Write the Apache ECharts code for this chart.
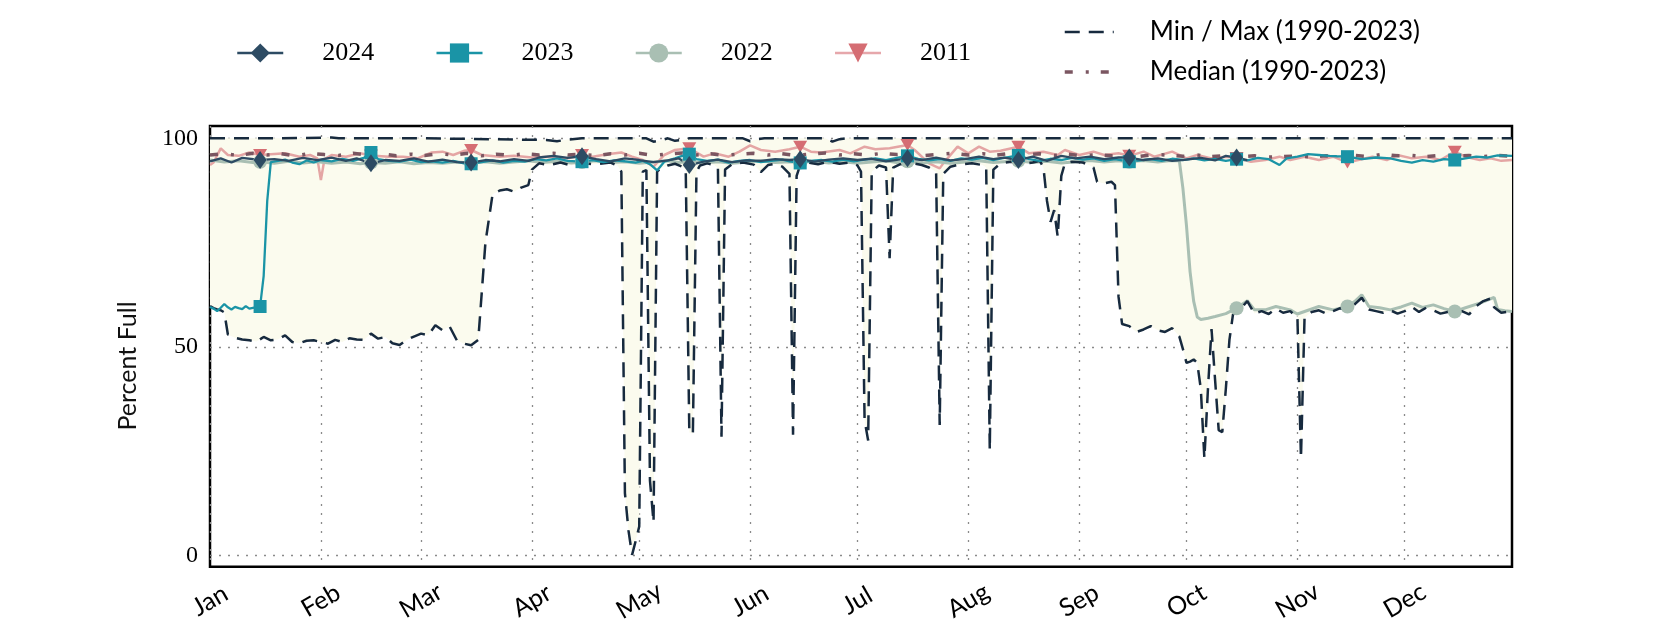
<!DOCTYPE html>
<html>
<head>
<meta charset="utf-8">
<script src="https://cdn.jsdelivr.net/npm/echarts@6/dist/echarts.min.js"></script>
<style>html,body{margin:0;padding:0;background:#fff}#c{width:1680px;height:630px}</style>
</head>
<body>
<div id="c"></div>
<script>
const months = ['Jan','Feb','Mar','Apr','May','Jun','Jul','Aug','Sep','Oct','Nov','Dec'];
const monthStart = [0,31,59,90,120,151,181,212,243,273,304,334];
const markerDays = [14,45,73,104,134,165,195,226,257,287,318,348];
const yTicks = [0,50,100];

const maxPct = [[0,100],[20,100],[34,100.2],[36,100],[60,100],[94,99.6],[97,99.3],[100,99.7],[104,100],[122,100],[124,99.2],[126,99.5],[128,100],[130,99.4],[132,99.6],[134,100],[149,100],[151,99.3],[153,99.8],[155,100],[172,100],[174,99.2],[176,99.8],[178,100],[364,100]];

const minPct = [[0,59.8],[1,59.3],[2,59.0],[3,58.8],[4,58.3],[5,53.0],[6,52.6],[7,52.2],[9,51.8],[11,51.6],[13,51.3],[15,52.4],[17,51.6],[19,51.8],[21,52.8],[23,51.2],[25,50.9],[27,51.5],[29,51.6],[31,51.2],[33,50.8],[35,51.7],[37,51.2],[39,52.1],[41,51.8],[43,51.7],[45,53.2],[47,52.0],[49,52.4],[51,50.9],[53,50.5],[55,51.7],[57,52.5],[59,53.2],[61,52.8],[63,55.2],[65,54.0],[67,54.9],[69,51.6],[71,50.8],[73,50.4],[75,51.7],[77,75.0],[79,86.6],[81,87.5],[83,87.8],[85,87.2],[87,88.2],[89,88.8],[90,92.5],[92,94.0],[95,93.6],[98,94.2],[101,93.5],[104,94.1],[107,93.8],[109,93.9],[112,94.2],[114,93.4],[115,92.0],[116,15.0],[117,6.0],[118,0.2],[119,3.5],[120,7.0],[121,92.0],[122,92.4],[123,18.0],[124,8.0],[125,92.0],[126,92.8],[128,93.5],[130,93.9],[132,93.2],[133,92.5],[134,29.5],[135,29.3],[136,92.0],[137,93.5],[139,94.0],[141,93.6],[142,92.8],[143,28.5],[144,92.5],[146,93.8],[149,94.2],[152,93.7],[154,91.9],[156,93.6],[158,93.9],[160,93.2],[162,91.5],[163,29.0],[164,91.0],[165,93.6],[167,94.2],[170,93.8],[173,94.4],[176,93.9],[179,94.2],[181,93.5],[182,92.0],[183,32.5],[184,27.6],[185,92.0],[187,93.5],[189,93.0],[190,71.3],[191,93.0],[193,93.8],[196,94.1],[199,93.6],[201,93.0],[203,92.0],[204,31.3],[205,91.5],[207,93.2],[210,93.8],[213,94.0],[216,93.6],[217,93.0],[218,25.3],[219,92.5],[221,94.0],[224,94.4],[227,93.8],[230,94.2],[232,94.6],[233,93.0],[234,85.0],[235,80.0],[236,82.8],[237,76.4],[238,91.0],[239,94.0],[241,94.4],[244,94.2],[246,93.5],[247,93.0],[248,89.6],[250,89.2],[252,89.6],[253,88.8],[254,62.0],[255,55.5],[257,55.0],[259,53.6],[261,54.2],[263,55.0],[265,54.0],[267,53.6],[269,54.5],[271,52.5],[272,49.5],[273,46.2],[274,46.5],[275,47.0],[276,46.2],[277,40.0],[278,23.3],[279,40.0],[280,54.3],[281,42.0],[282,30.1],[283,29.6],[284,40.0],[285,51.7],[286,57.8],[288,59.0],[290,61.0],[292,58.0],[294,58.6],[296,57.9],[298,59.2],[300,58.2],[302,58.6],[303,57.8],[304,57.5],[305,23.3],[306,57.0],[308,58.4],[310,58.8],[312,58.0],[314,58.6],[316,59.3],[318,58.8],[320,60.2],[322,61.8],[324,59.0],[326,58.6],[328,58.2],[330,58.8],[332,58.0],[334,58.6],[336,59.6],[338,58.4],[340,59.4],[342,58.8],[344,58.0],[346,58.4],[348,58.2],[350,58.6],[352,57.8],[354,59.8],[356,61.0],[358,61.6],[359,59.5],[361,58.2],[364,58.6]];

const medianPct = [[0,96.0],[4,96.3],[8,95.9],[12,96.4],[16,96.0],[20,96.3],[24,95.8],[28,96.4],[32,96.1],[36,95.9],[40,96.4],[44,96.0],[48,96.3],[52,95.8],[56,96.2],[60,95.9],[64,96.3],[68,96.0],[72,96.4],[76,95.8],[80,96.2],[84,95.9],[88,96.3],[92,96.0],[96,96.4],[100,96.0],[104,96.2],[108,95.8],[112,96.3],[116,96.0],[120,96.4],[124,95.9],[128,96.2],[132,96.5],[136,96.0],[140,96.3],[144,95.9],[148,96.2],[152,96.4],[156,96.0],[160,96.3],[164,95.9],[168,96.2],[172,96.5],[176,96.0],[180,96.3],[184,96.0],[188,96.4],[192,96.1],[196,96.3],[200,95.9],[204,96.2],[208,96.4],[212,96.0],[216,96.3],[220,96.0],[224,96.4],[228,96.0],[232,96.3],[236,95.9],[240,96.2],[244,95.8],[248,96.1],[252,95.8],[256,96.0],[260,95.7],[264,96.1],[268,96.0],[272,95.7],[276,96.0],[280,95.6],[284,95.9],[288,95.6],[292,95.8],[296,95.5],[300,95.6],[304,95.8],[308,95.5],[312,95.8],[316,95.6],[320,95.9],[324,95.6],[328,96.2],[332,95.8],[336,95.9],[340,95.6],[344,95.9],[348,95.7],[352,95.9],[356,95.6],[360,95.9],[364,95.7]];

const y2024 = [[0,94.5],[3,95.2],[6,94.2],[9,95.3],[14,94.8],[18,95.0],[22,94.6],[26,95.3],[30,94.8],[34,95.4],[38,94.6],[41,95.2],[45,94.0],[49,94.8],[53,94.6],[57,95.2],[61,94.4],[65,94.9],[69,94.3],[73,94.2],[77,94.8],[81,94.5],[85,95.0],[89,94.6],[92,95.4],[96,95.8],[100,95.3],[104,95.7],[108,95.0],[112,94.5],[116,95.2],[120,94.8],[124,94.3],[128,94.7],[131,95.2],[134,93.6],[138,94.4],[142,94.9],[146,94.3],[150,94.7],[154,94.6],[158,95.0],[162,94.8],[165,95.0],[169,94.4],[173,94.9],[177,95.2],[181,94.8],[185,95.1],[189,94.5],[195,95.2],[199,94.8],[203,95.4],[207,94.7],[211,95.0],[215,95.6],[219,95.0],[222,95.4],[226,94.8],[230,95.6],[234,94.6],[238,95.8],[242,95.2],[246,95.6],[250,95.0],[254,95.4],[257,95.4],[261,94.8],[265,95.2],[269,94.6],[273,94.9],[277,95.3],[281,94.7],[284,95.8],[287,95.4],[290,94.8]];

const y2023 = [[0,59.6],[1,59.2],[2,58.6],[3,59.4],[4,60.3],[5,59.5],[6,59.0],[7,59.6],[8,59.3],[9,59.1],[10,59.8],[11,59.2],[12,59.4],[14,59.7],[15,67.0],[16,85.0],[17,94.3],[19,94.6],[21,94.9],[23,94.2],[25,93.8],[27,94.7],[29,94.2],[31,94.8],[34,94.5],[37,95.1],[40,94.6],[43,95.3],[45,96.6],[47,95.0],[50,94.6],[53,94.4],[56,94.9],[59,94.3],[62,94.5],[65,94.2],[68,94.6],[71,94.0],[73,93.9],[76,94.3],[79,94.7],[82,94.2],[85,94.6],[88,94.4],[91,95.0],[94,94.7],[97,95.2],[100,94.6],[104,94.4],[107,94.8],[110,94.3],[113,94.7],[116,94.5],[119,94.2],[121,94.6],[123,93.8],[125,92.3],[127,94.4],[130,95.2],[132,95.8],[134,96.2],[136,95.0],[139,94.6],[142,94.9],[145,94.2],[148,94.6],[151,94.8],[154,94.3],[157,94.6],[160,94.9],[162,94.5],[165,94.1],[168,94.6],[171,94.8],[174,94.4],[177,94.9],[180,94.5],[183,94.9],[186,95.2],[189,94.8],[192,95.3],[195,95.8],[198,95.1],[201,94.7],[204,95.0],[207,94.6],[210,95.2],[213,94.9],[216,95.3],[219,94.8],[222,95.3],[226,95.9],[229,95.0],[232,94.6],[235,95.1],[238,94.8],[241,95.3],[244,94.9],[247,95.2],[250,94.6],[253,95.0],[257,94.4],[260,94.7],[263,95.0],[266,94.6],[269,95.1],[272,94.8],[275,95.2],[278,94.7],[281,95.1],[284,94.6],[287,95.0],[290,94.7],[293,95.3],[296,95.0],[299,93.6],[301,95.2],[304,95.6],[307,96.2],[310,96.0],[313,95.8],[315,95.7],[318,95.6],[322,95.0],[326,95.4],[330,95.2],[333,94.6],[336,94.2],[339,94.8],[342,94.4],[345,95.0],[348,94.8],[351,95.2],[354,95.6],[357,95.4],[360,95.9],[364,95.8]];

const y2022 = [[0,94.8],[4,94.3],[8,94.6],[12,94.2],[14,94.4],[18,94.0],[22,94.5],[26,94.1],[30,94.4],[34,94.0],[38,94.3],[42,93.9],[45,94.2],[49,94.0],[53,94.4],[57,93.9],[61,94.2],[65,94.0],[69,94.3],[73,94.1],[77,94.4],[81,94.0],[85,94.3],[89,94.6],[93,94.2],[97,94.5],[101,94.1],[104,94.3],[108,94.6],[112,94.2],[116,94.4],[120,94.0],[124,94.3],[128,94.6],[131,94.2],[134,94.5],[138,94.1],[142,94.4],[146,94.0],[150,94.3],[154,94.6],[158,94.2],[162,94.4],[165,94.2],[169,94.5],[173,94.1],[177,94.4],[181,94.0],[185,94.3],[189,94.6],[192,94.2],[195,94.5],[199,94.1],[203,94.4],[207,94.0],[211,94.3],[215,94.6],[219,94.2],[222,94.4],[226,94.6],[230,94.2],[234,94.5],[238,94.1],[242,94.4],[246,94.7],[250,94.3],[254,94.6],[257,94.4],[261,94.7],[265,94.3],[268,94.6],[271,94.6],[272,88.0],[273,79.0],[274,68.0],[275,61.0],[276,57.2],[277,56.6],[279,56.9],[281,57.3],[284,58.0],[287,59.3],[290,61.1],[292,58.9],[295,58.9],[298,59.7],[302,58.9],[304,57.9],[307,58.8],[310,59.7],[314,58.9],[318,59.7],[320,60.9],[322,62.5],[324,59.7],[327,59.4],[330,58.9],[333,59.6],[336,60.5],[339,59.5],[342,60.1],[345,59.2],[348,58.5],[351,59.4],[355,60.5],[357,61.2],[359,61.9],[360,59.0],[362,58.7],[364,58.5]];

const y2011 = [[0,93.6],[1,94.2],[3,97.6],[5,96.0],[8,95.8],[11,96.6],[14,96.0],[17,96.2],[21,96.4],[25,95.6],[28,96.0],[30,95.2],[31,90.0],[32,95.0],[34,96.0],[38,95.6],[42,96.4],[45,95.9],[46,95.8],[50,95.6],[54,95.6],[58,95.2],[62,96.6],[65,96.8],[68,96.0],[71,97.0],[73,97.2],[76,96.0],[81,95.6],[85,95.8],[90,95.4],[95,95.6],[100,95.2],[104,96.0],[107,95.6],[111,96.2],[115,96.6],[118,95.6],[121,94.8],[124,93.2],[127,96.0],[130,97.2],[134,97.6],[138,95.6],[141,96.4],[145,95.6],[148,96.8],[151,98.3],[154,97.2],[158,96.8],[162,97.4],[165,98.0],[168,96.8],[171,96.6],[176,97.2],[179,96.4],[183,98.0],[186,97.4],[190,97.6],[195,98.4],[197,97.2],[201,94.0],[204,92.8],[205,94.0],[209,98.0],[212,96.4],[215,98.0],[218,96.8],[221,97.0],[226,98.0],[229,96.4],[233,96.8],[237,96.0],[239,97.2],[243,96.0],[247,96.8],[250,96.0],[254,96.4],[257,95.8],[261,96.8],[264,95.6],[269,96.8],[273,95.2],[276,96.0],[280,95.2],[284,95.6],[287,95.3],[291,94.4],[295,94.8],[299,95.6],[302,94.8],[306,95.6],[310,94.8],[314,95.6],[318,94.2],[321,94.8],[325,95.6],[329,94.8],[332,96.0],[336,95.2],[340,95.6],[344,94.8],[348,96.8],[351,95.6],[355,94.8],[358,95.2],[361,94.6],[364,94.8]];

const C2024 = '#2d4b63', C2023 = '#1a94a6', C2022 = '#a9bfb3', C2011 = '#d56d73';
const CMM = '#172a3e', CMED = '#7b5661', CFILL = '#fbfbee';
const thinDiamond = 'path://M7,0L14,10L7,20L0,10Z';
const triDown = 'path://M0,0L14,0L7,12Z';

function markerSize(sz) {
  return function (v) { return markerDays.indexOf(v[0]) >= 0 ? sz : 0; };
}
function yearSeries(name, data, color, symbol, size, lineOpacity, width) {
  return {
    name: name, type: 'line', data: data, color: color,
    symbol: symbol, symbolSize: markerSize(size), showSymbol: true, showAllSymbol: true,
    itemStyle: { color: color, opacity: 1 },
    lineStyle: { color: color, width: width, opacity: lineOpacity },
    emphasis: { disabled: true }, silent: true, clip: true
  };
}
function refSeries(name, data, color, width, dash) {
  return {
    name: name, type: 'line', data: data, color: color,
    symbol: 'none', showSymbol: false,
    lineStyle: { color: color, width: width, type: dash },
    emphasis: { disabled: true }, silent: true
  };
}

const chart = echarts.init(document.getElementById('c'), null, { renderer: 'canvas' });
chart.setOption({
  animation: false,
  backgroundColor: '#fff',
  grid: { left: 210, right: 168, top: 126, bottom: 63.3, show: true, borderColor: '#000', borderWidth: 2.5, backgroundColor: 'transparent' },
  xAxis: {
    type: 'value', min: 0, max: 364,
    axisLine: { show: false },
    axisTick: { show: false, customValues: monthStart },
    axisLabel: {
      customValues: monthStart,
      formatter: function (v) { return months[monthStart.indexOf(v)]; },
      rotate: 30, align: 'center', verticalAlign: 'middle', margin: 34,
      fontFamily: 'Lato', fontSize: 25, color: '#000'
    },
    splitLine: { show: true, lineStyle: { color: '#8a8a8a', type: [2, 7], width: 1.3 } }
  },
  yAxis: {
    type: 'value', min: -2.64, max: 102.95,
    axisLine: { show: false },
    axisTick: { show: false, customValues: yTicks },
    axisLabel: { customValues: yTicks, margin: 12, fontFamily: 'Liberation Serif', fontSize: 24, color: '#000' },
    splitLine: { show: true, lineStyle: { color: '#8a8a8a', type: [2, 7], width: 1.3 } }
  },
  legend: [
    {
      data: ['2024', '2023', '2022', '2011'], left: 236, top: 40, padding: 0,
      itemWidth: 46, itemHeight: 24, itemGap: 61,
      lineStyle: { width: 2.5 },
      textStyle: { fontFamily: 'Liberation Serif', fontSize: 26, color: '#000', padding: [0, 0, 0, 34] }
    },
    {
      data: ['Min / Max (1990-2023)', 'Median (1990-2023)'], orient: 'vertical', left: 1063, top: 19, padding: 0,
      itemWidth: 49, itemHeight: 20, itemGap: 14,
      itemStyle: { opacity: 0 },
      lineStyle: { width: 'inherit' },
      textStyle: { fontFamily: 'Lato', fontSize: 26, color: '#000', padding: [0, 0, 0, 31] }
    }
  ],
  graphic: [{
    type: 'text', x: 128, y: 366, rotation: Math.PI / 2,
    style: { text: 'Percent Full', fontFamily: 'Lato', fontSize: 25, fill: '#111', align: 'center', verticalAlign: 'middle' }
  }],
  series: [
    {
      type: 'custom', data: [[0, 0]], silent: true, z: 1,
      renderItem: function (params, api) {
        const pts = maxPct.map(function (p) { return api.coord(p); })
          .concat(minPct.slice().reverse().map(function (p) { return api.coord(p); }));
        return { type: 'polygon', shape: { points: pts }, style: { fill: CFILL } };
      }
    },
    yearSeries('2011', y2011, C2011, triDown, [14, 12], 0.6, 2.5),
    yearSeries('2022', y2022, C2022, 'circle', 14, 1, 3),
    refSeries('Min / Max (1990-2023)', maxPct, CMM, 2.5, [15, 9]),
    refSeries('Min / Max (1990-2023)', minPct, CMM, 2.5, [15, 9]),
    refSeries('Median (1990-2023)', medianPct, CMED, 3.5, [8, 13, 3, 12]),
    yearSeries('2023', y2023, C2023, 'rect', 13, 1, 2.3),
    yearSeries('2024', y2024, C2024, thinDiamond, [13, 18], 1, 2.3)
  ]
});
</script>
</body>
</html>
